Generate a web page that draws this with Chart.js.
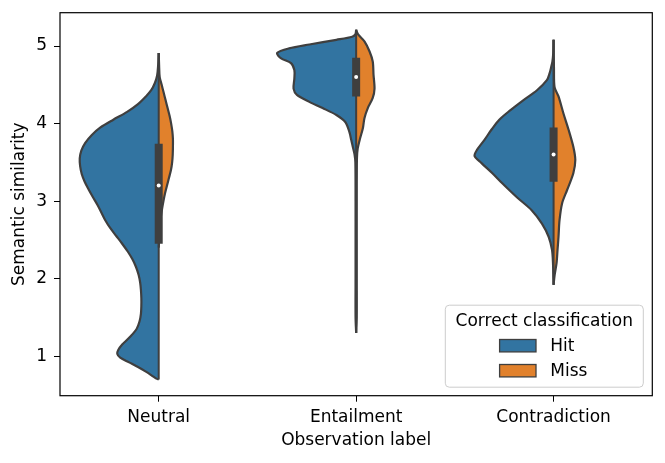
<!DOCTYPE html>
<html>
<head>
<meta charset="utf-8">
<script src="https://cdn.jsdelivr.net/npm/chart.js@4"></script>
<style>
  html, body { margin: 0; padding: 0; background: #fff; }
  canvas { display: block; }
</style>
</head>
<body>
<canvas id="violinChart" width="665" height="463"></canvas>
<script>
// categories and axis ticks
const categories = ['Neutral', 'Entailment', 'Contradiction'];
const yTicks = [1, 2, 3, 4, 5];
const seriesNames = ['Hit', 'Miss'];

// violin outlines: y values (top -> bottom) and half widths (in category units)
const neutralHitY = [4.91, 4.75, 4.62, 4.52, 4.43, 4.35, 4.25, 4.15, 4.05, 3.95, 3.85, 3.75, 3.65, 3.55, 3.45, 3.35, 3.25, 3.15, 3.05, 2.95, 2.85, 2.75, 2.65, 2.55, 2.45, 2.35, 2.25, 2.15, 2.05, 1.95, 1.85, 1.75, 1.65, 1.55, 1.45, 1.35, 1.25, 1.15, 1.08, 1.03, 0.98, 0.92, 0.86, 0.8, 0.75, 0.71, 0.7];
const neutralHitW = [0, 0.003, 0.008, 0.02, 0.038, 0.065, 0.105, 0.16, 0.23, 0.295, 0.34, 0.372, 0.392, 0.4, 0.398, 0.39, 0.375, 0.355, 0.333, 0.31, 0.29, 0.27, 0.245, 0.215, 0.185, 0.157, 0.133, 0.115, 0.102, 0.094, 0.09, 0.088, 0.088, 0.09, 0.097, 0.112, 0.145, 0.185, 0.205, 0.21, 0.195, 0.15, 0.105, 0.065, 0.035, 0.012, 0];
const neutralMissY = [4.91, 4.75, 4.6, 4.5, 4.4, 4.3, 4.2, 4.1, 4.0, 3.9, 3.8, 3.7, 3.6, 3.5, 3.4, 3.3, 3.2, 3.1, 3.0, 2.9, 2.8, 2.7, 2.6, 2.5, 2.4];
const neutralMissW = [0, 0.002, 0.005, 0.015, 0.025, 0.035, 0.045, 0.055, 0.063, 0.069, 0.072, 0.072, 0.071, 0.068, 0.062, 0.052, 0.042, 0.032, 0.024, 0.017, 0.011, 0.007, 0.004, 0.002, 0];

const entailHitY = [5.21, 5.15, 5.12, 5.08, 5.02, 4.97, 4.91, 4.84, 4.78, 4.69, 4.58, 4.45, 4.37, 4.28, 4.2, 4.11, 4.02, 3.89, 3.79, 3.7, 3.6, 3.5, 3.0, 2.5, 2.0, 1.5, 1.3];
const entailHitW = [0, 0.004, 0.02, 0.1, 0.237, 0.34, 0.4, 0.38, 0.33, 0.313, 0.313, 0.317, 0.3, 0.237, 0.17, 0.1, 0.055, 0.034, 0.025, 0.017, 0.008, 0.004, 0.003, 0.003, 0.003, 0.003, 0];
const entailMissY = [5.21, 5.15, 5.06, 4.93, 4.8, 4.63, 4.45, 4.33, 4.2, 4.07, 3.94, 3.81, 3.68, 3.55, 3.0, 2.5, 2.0, 1.5, 1.3];
const entailMissW = [0, 0.01, 0.042, 0.068, 0.084, 0.088, 0.093, 0.084, 0.059, 0.042, 0.034, 0.02, 0.008, 0.004, 0.003, 0.003, 0.003, 0.003, 0];

const contraHitY = [5.08, 4.9, 4.8, 4.73, 4.65, 4.56, 4.43, 4.3, 4.17, 4.05, 3.92, 3.79, 3.66, 3.58, 3.49, 3.36, 3.23, 3.05, 2.88, 2.71, 2.54, 2.37, 2.2, 2.0, 1.92];
const contraHitW = [0, 0.002, 0.006, 0.012, 0.02, 0.034, 0.084, 0.154, 0.22, 0.275, 0.315, 0.35, 0.388, 0.4, 0.365, 0.31, 0.26, 0.186, 0.11, 0.059, 0.025, 0.008, 0.003, 0.001, 0];
const contraMissY = [5.08, 4.7, 4.47, 4.35, 4.13, 3.92, 3.7, 3.53, 3.36, 3.14, 2.97, 2.75, 2.54, 2.37, 2.2, 2.04, 1.92];
const contraMissW = [0, 0.002, 0.005, 0.025, 0.05, 0.076, 0.1, 0.11, 0.1, 0.068, 0.043, 0.03, 0.025, 0.02, 0.015, 0.005, 0];

// inner box stats per category
const boxQ1 = [2.45, 4.35, 3.25];
const boxMedian = [3.2, 4.6, 3.6];
const boxQ3 = [3.74, 4.85, 3.95];
const whiskerLow = [0.7, 1.3, 1.92];
const whiskerHigh = [4.91, 5.21, 5.08];

const hitColor = '#3274a1';
const missColor = '#e1812c';
const edgeColor = '#3f3f3f';
const fontFamily = "'DejaVu Sans', sans-serif";

Chart.defaults.color = '#000';
Chart.defaults.font.family = fontFamily;
Chart.defaults.font.size = 17;

// one half of a violin: side -1 = left (Hit), +1 = right (Miss)
function halfViolin(cat, ys, ws, side, color) {
    return {
        violin: true,
        showLine: true,
        data: ys.map((y, i) => ({ x: cat + side * ws[i], y: y })),
        borderColor: edgeColor,
        borderWidth: 2.2,
        backgroundColor: color,
        pointRadius: 0,
        tension: 0.3,
        order: 5
    };
}

const datasets = [
    halfViolin(0, neutralHitY, neutralHitW, -1, hitColor),
    halfViolin(0, neutralMissY, neutralMissW, 1, missColor),
    halfViolin(1, entailHitY, entailHitW, -1, hitColor),
    halfViolin(1, entailMissY, entailMissW, 1, missColor),
    halfViolin(2, contraHitY, contraHitW, -1, hitColor),
    halfViolin(2, contraMissY, contraMissW, 1, missColor)
];

// whiskers and boxes
categories.forEach((c, i) => {
    datasets.push({
        showLine: true,
        data: [{ x: i, y: whiskerLow[i] }, { x: i, y: whiskerHigh[i] }],
        borderColor: edgeColor,
        borderWidth: 2,
        pointRadius: 0,
        order: 3
    });
    datasets.push({
        showLine: true,
        data: [{ x: i, y: boxQ1[i] }, { x: i, y: boxQ3[i] }],
        borderColor: edgeColor,
        borderWidth: 8,
        borderCapStyle: 'butt',
        pointRadius: 0,
        order: 2
    });
});
datasets.push({
    data: boxMedian.map((m, i) => ({ x: i, y: m })),
    backgroundColor: '#fff',
    borderWidth: 0,
    pointRadius: 2,
    order: 1
});

// fill each half violin using the library's own line path
const violinFill = {
    id: 'violinFill',
    beforeDatasetsDraw(chart) {
        const ctx = chart.ctx;
        chart.data.datasets.forEach((ds, i) => {
            if (!ds.violin) return;
            const line = chart.getDatasetMeta(i).dataset;
            if (!line) return;
            ctx.save();
            ctx.beginPath();
            line.path(ctx);
            ctx.closePath();
            ctx.fillStyle = ds.backgroundColor;
            ctx.fill();
            ctx.restore();
        });
    }
};

// full box around the axes
const frame = {
    id: 'frame',
    afterDatasetsDraw(chart) {
        const { ctx, chartArea: a } = chart;
        ctx.save();
        ctx.strokeStyle = '#000';
        ctx.lineWidth = 1.2;
        ctx.strokeRect(a.left, a.top, a.right - a.left, a.bottom - a.top);
        ctx.restore();
    }
};

// legend in the lower right corner
const legendBox = {
    id: 'legendBox',
    afterDraw(chart) {
        const { ctx, chartArea: a } = chart;
        const w = 198, h = 82;
        const x0 = a.right - 9 - w, y0 = a.bottom - 8.5 - h;
        ctx.save();
        ctx.beginPath();
        ctx.roundRect(x0, y0, w, h, 4);
        ctx.fillStyle = 'rgba(255,255,255,0.8)';
        ctx.fill();
        ctx.strokeStyle = '#cccccc';
        ctx.lineWidth = 1;
        ctx.stroke();

        ctx.font = '17px ' + fontFamily;
        ctx.fillStyle = '#000';
        ctx.textAlign = 'center';
        ctx.textBaseline = 'alphabetic';
        ctx.fillText('Correct classification', x0 + w / 2, y0 + 20.7);

        const colors = [hitColor, missColor];
        seriesNames.forEach((name, i) => {
            const py = y0 + 34.3 + i * 25;
            ctx.fillStyle = colors[i];
            ctx.fillRect(x0 + 54.3, py, 36.4, 12.4);
            ctx.strokeStyle = edgeColor;
            ctx.lineWidth = 1.3;
            ctx.strokeRect(x0 + 54.3, py, 36.4, 12.4);
            ctx.fillStyle = '#000';
            ctx.textAlign = 'left';
            ctx.fillText(name, x0 + 105, py + 11.4);
        });
        ctx.restore();
    }
};

// keep tick labels from pushing the plot area around
function noScalePadding(s) {
    s.paddingTop = 0;
    s.paddingBottom = 0;
    s.paddingLeft = 0;
    s.paddingRight = 0;
}

new Chart(document.getElementById('violinChart'), {
    type: 'scatter',
    data: { datasets: datasets },
    options: {
        responsive: false,
        animation: false,
        layout: { padding: { top: 12.7, right: 12.7, left: 0, bottom: 0 } },
        plugins: {
            legend: { display: false },
            tooltip: { enabled: false }
        },
        scales: {
            x: {
                type: 'linear',
                min: -0.5,
                max: 2.5,
                afterBuildTicks: (s) => { s.ticks = categories.map((c, i) => ({ value: i })); },
                afterFit: (s) => { s.height = 67.3; noScalePadding(s); },
                ticks: {
                    callback: (v) => categories[v],
                    padding: 6,
                    maxRotation: 0,
                    autoSkip: false
                },
                grid: { drawOnChartArea: false, drawTicks: true, tickLength: 6, color: '#000' },
                border: { display: false },
                title: { display: true, text: 'Observation label', padding: { top: 0, bottom: 12 } }
            },
            y: {
                type: 'linear',
                min: 0.49,
                max: 5.43,
                afterBuildTicks: (s) => { s.ticks = yTicks.map(v => ({ value: v })); },
                afterFit: (s) => { s.width = 60; noScalePadding(s); },
                ticks: { padding: 7 },
                grid: { drawOnChartArea: false, drawTicks: true, tickLength: 6, color: '#000' },
                border: { display: false },
                title: { display: true, text: 'Semantic similarity', padding: { top: 9.5, bottom: 0 } }
            }
        }
    },
    plugins: [violinFill, frame, legendBox]
});
</script>
</body>
</html>
